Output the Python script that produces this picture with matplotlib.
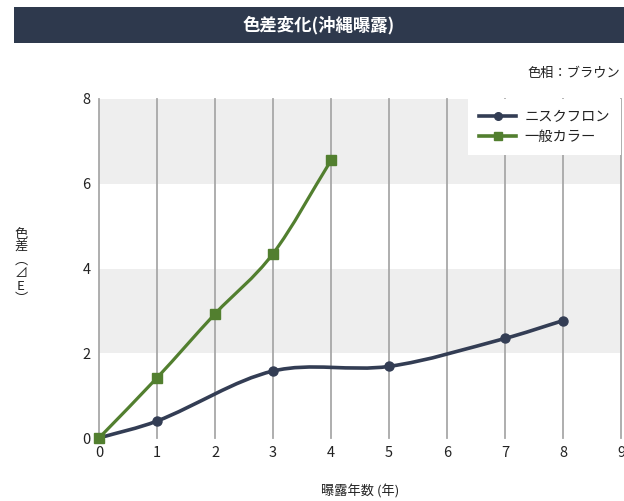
import matplotlib
matplotlib.use("Agg")
import matplotlib.pyplot as plt
from matplotlib.path import Path
from matplotlib.patches import PathPatch, Rectangle
from matplotlib.lines import Line2D

plt.rcParams['font.family'] = ['Noto Sans CJK JP', 'DejaVu Sans']

# Data
nisuku_x = [0, 1, 3, 5, 7, 8]
nisuku_y = [0.0, 0.40, 1.58, 1.69, 2.35, 2.77]
general_x = [0, 1, 2, 3, 4]
general_y = [0.0, 1.42, 2.93, 4.35, 6.55]
series_names = ['ニスクフロン', '一般カラー']
x_ticks = list(range(0, 10))
y_ticks = [0, 2, 4, 6, 8]

NAVY = '#333d54'
GREEN = '#527f2f'
GRID = '#a8a8a8'
BAND = '#eeeeee'


def smooth_path(xs, ys):
    n = len(xs)
    m = []
    for i in range(n):
        if i == 0:
            m.append((ys[1] - ys[0]) / (xs[1] - xs[0]))
        elif i == n - 1:
            m.append((ys[-1] - ys[-2]) / (xs[-1] - xs[-2]))
        else:
            m.append((ys[i + 1] - ys[i - 1]) / (xs[i + 1] - xs[i - 1]))
    verts = [(xs[0], ys[0])]
    codes = [Path.MOVETO]
    for i in range(n - 1):
        dx = xs[i + 1] - xs[i]
        c1 = (xs[i] + dx / 3, ys[i] + m[i] * dx / 3)
        c2 = (xs[i + 1] - dx / 3, ys[i + 1] - m[i + 1] * dx / 3)
        verts += [c1, c2, (xs[i + 1], ys[i + 1])]
        codes += [Path.CURVE4] * 3
    return Path(verts, codes)


fig = plt.figure(figsize=(6.24, 5.01), dpi=100)

# Title banner
fig.patches.append(Rectangle((14 / 624, 1 - 43 / 501), 1 - 14 / 624, 36 / 501,
                             transform=fig.transFigure, facecolor='#2e394d',
                             edgecolor='none', zorder=0))
fig.text(319 / 624, 1 - 25 / 501, '色差変化(沖縄曝露)', color='white',
         fontsize=12.5, fontweight='bold', ha='center', va='center')
fig.text(620 / 624, 1 - 73 / 501, '色相：ブラウン', color='#222222',
         fontsize=9.5, ha='right', va='center')

ax = fig.add_axes([99 / 624, 1 - 438 / 501, 522 / 624, 339 / 501])
ax.set_xlim(0, 9)
ax.set_ylim(0, 8)
for s in ax.spines.values():
    s.set_visible(False)

ax.axhspan(2, 4, color=BAND, zorder=0, lw=0)
ax.axhspan(6, 8, color=BAND, zorder=0, lw=0)
for xv in x_ticks:
    ax.axvline(xv, color=GRID, lw=1.3, zorder=1, clip_on=False)

ax.add_patch(PathPatch(smooth_path(nisuku_x, nisuku_y), facecolor='none',
                       edgecolor=NAVY, lw=2.6, zorder=3, capstyle='round'))
ax.plot(nisuku_x, nisuku_y, ls='none', marker='o', ms=6.5, color=NAVY, zorder=4,
        clip_on=False)
ax.add_patch(PathPatch(smooth_path(general_x, general_y), facecolor='none',
                       edgecolor=GREEN, lw=2.3, zorder=5, capstyle='round'))
ax.plot(general_x, general_y, ls='none', marker='s', ms=7, color=GREEN, zorder=6,
        clip_on=False)

ax.set_xticks(x_ticks)
ax.set_yticks(y_ticks)
ax.tick_params(length=0, labelsize=10.5, colors='#222222', pad=6)

handles = [Line2D([], [], color=NAVY, lw=2.6, marker='o', ms=5.5),
           Line2D([], [], color=GREEN, lw=2.6, marker='s', ms=6)]
leg = ax.legend(handles, series_names, loc='upper right', bbox_to_anchor=(1, 1),
                borderaxespad=0, fancybox=False, framealpha=1, facecolor='white',
                edgecolor='none', fontsize=10.3, handlelength=2.6, handletextpad=0.6,
                borderpad=0.75, labelspacing=0.45)
leg.set_zorder(10)
for t in leg.get_texts():
    t.set_color('#222222')

fig.text(360 / 624, 1 - 492 / 501, '曝露年数 (年)', fontsize=9.5, ha='center',
         va='center', color='#222222')
fig.text(21 / 624, 1 - 267 / 501, '色\n差\n︵\n⊿\nE\n︶', fontsize=9.5, ha='center',
         va='center', linespacing=1.0, color='#222222')

fig.savefig('out.png', dpi=100)
